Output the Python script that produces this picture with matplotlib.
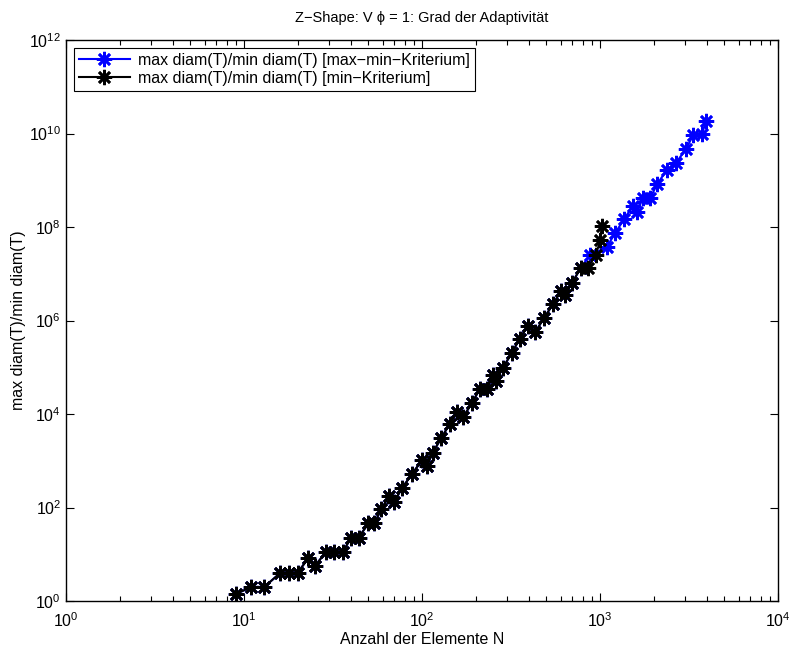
import matplotlib
matplotlib.use("Agg")
import matplotlib.pyplot as plt
from matplotlib.ticker import LogLocator, LogFormatterMathtext, NullLocator, NullFormatter

plt.rcParams["font.family"] = ["Liberation Sans", "DejaVu Sans"]
plt.rcParams["mathtext.default"] = "regular"

# min criterion: number of elements and diameter ratio per refinement step
n_min = [9, 11, 13, 16, 18, 20, 23, 25, 29, 32, 36, 40, 44, 50, 54, 59, 65, 70,
         77, 88, 100, 106, 115, 128, 143, 157, 171, 190, 211, 231, 252, 260, 284,
         319, 353, 392, 434, 483, 545, 604, 632, 696, 779, 854, 947, 1006, 1020]
ratio_min = [1.41, 2.0, 2.0, 4.0, 4.0, 4.0, 8.3, 5.6, 11.4, 11.4, 11.4, 22.8, 22.8,
             45.5, 45.5, 91.5, 172, 133, 258, 521, 1040, 754, 1490, 3020, 6110,
             11200, 8750, 16900, 33800, 33800, 68000, 50800, 96400, 1.99e5,
             4.02e5, 7.62e5, 5.75e5, 1.11e6, 2.25e6, 4.28e6, 3.43e6, 6.34e6,
             1.33e7, 1.33e7, 2.58e7, 5.2e7, 1.03e8]

# max-min criterion: identical meshes up to N = 779, then its own branch
n_shared = 43
n_tail = [879, 1090, 1214, 1364, 1526, 1620, 1738, 1910, 2099, 2370, 2673, 3042,
          3344, 3726, 3965]
ratio_tail = [2.52e7, 3.68e7, 7.33e7, 1.46e8, 2.81e8, 2.12e8, 4.11e8, 4.11e8,
              8.32e8, 1.66e9, 2.34e9, 4.71e9, 9.29e9, 9.66e9, 1.88e10]
n_maxmin = n_min[:n_shared] + n_tail
ratio_maxmin = ratio_min[:n_shared] + ratio_tail

fig = plt.figure(figsize=(7.92, 6.48), dpi=100)
ax = fig.add_axes([66 / 792, 47 / 648, 712 / 792, 561 / 648])

fs = 11.5
star = (8, 2, 0)
ax.loglog(n_maxmin, ratio_maxmin, color="#0000ff", lw=1.5, marker=star, ms=11,
          mew=1.9, label="max diam(T)/min diam(T) [max−min−Kriterium]")
ax.loglog(n_min, ratio_min, color="black", lw=1.5, marker=star, ms=11,
          mew=1.9, label="max diam(T)/min diam(T) [min−Kriterium]")

ax.set_xlim(1, 1e4)
ax.set_ylim(1, 1e12)
ax.xaxis.set_major_locator(LogLocator(base=10, numticks=10))
ax.xaxis.set_minor_locator(LogLocator(base=10, subs=range(2, 10), numticks=20))
ax.xaxis.set_minor_formatter(NullFormatter())
ax.set_yticks([10.0 ** k for k in range(0, 13, 2)])
ax.yaxis.set_major_formatter(LogFormatterMathtext())
ax.yaxis.set_minor_locator(NullLocator())

ax.tick_params(which="both", direction="in", top=True, right=True, labelsize=fs)
ax.tick_params(which="major", length=6, width=0.8)
ax.tick_params(which="minor", length=3.5, width=0.8)
ax.tick_params(axis="x", which="major", pad=7.5)
for side in ax.spines.values():
    side.set_linewidth(1.0)

ax.set_xlabel("Anzahl der Elemente N", fontsize=fs, labelpad=1)
ax.set_ylabel("max diam(T)/min diam(T)", fontsize=fs, labelpad=2)
ax.set_title("Z−Shape: V ϕ = 1: Grad der Adaptivität", fontsize=10.5, pad=13)

leg = ax.legend(loc="upper left", fontsize=fs, handlelength=3.2, fancybox=False,
                framealpha=1, edgecolor="black", borderaxespad=0.5,
                borderpad=0.3, labelspacing=0.2, handletextpad=0.5)
leg.get_frame().set_linewidth(0.8)

fig.savefig("out.png", dpi=100)
